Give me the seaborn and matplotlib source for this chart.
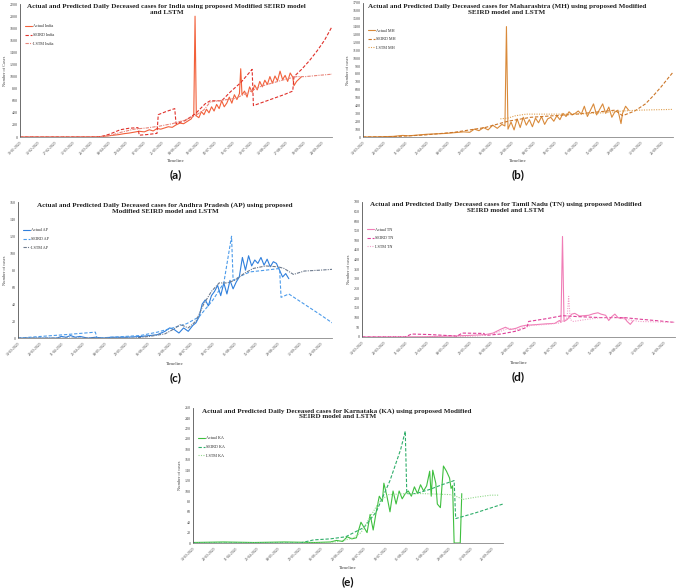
import numpy as np
import pandas as pd
import matplotlib
matplotlib.use("Agg")
import matplotlib.pyplot as plt
import matplotlib.dates as mdates
import seaborn as sns

# ---- India (day offsets from 30-01-2020) ----
india_actual_day = [0, 40, 55, 62, 66, 70, 74, 78, 82, 86, 90, 94, 98, 102, 105, 108, 111, 114, 117, 120,
                    123, 126, 129, 132, 135, 137, 138, 139, 141, 143, 145, 147, 149, 151, 153, 155, 157, 159, 161, 163,
                    165, 167, 169, 171, 173, 174, 175, 177, 179, 181, 183, 185, 187, 189, 191, 193, 195, 197, 199, 201,
                    203, 205, 207, 209, 211, 213, 215, 216, 218, 220, 222]
india_actual_val = [0, 0, 2, 5, 12, 20, 30, 40, 55, 65, 80, 95, 85, 120, 100, 140, 130, 150, 170, 160,
                    200, 230, 220, 260, 300, 380, 2000, 350, 320, 420, 370, 460, 400, 500, 430, 540, 470, 600, 500, 560,
                    660, 560, 700, 620, 720, 1130, 700, 760, 660, 830, 740, 860, 780, 920, 830, 940, 870, 1000, 890, 1010,
                    930, 1090, 950, 1020, 920, 1060, 990, 850, 920, 960, 1000]
india_seird_day = [0, 63, 71, 79, 86, 93, 94, 100, 108, 109, 115, 122, 123, 130, 138, 146, 150, 159, 166, 174,
                   183, 184, 192, 200, 208, 215, 216, 222, 228, 234, 240, 246]
india_seird_val = [0, 0, 50, 120, 145, 155, 30, 40, 60, 370, 420, 470, 220, 270, 380, 550, 600, 600, 750, 900,
                   1120, 520, 580, 640, 700, 760, 1000, 1120, 1260, 1420, 1600, 1830]
india_lstm_day = [0, 63, 72, 80, 90, 100, 110, 120, 130, 138, 145, 150, 160, 170, 180, 190, 200, 210, 218, 225, 235, 246]
india_lstm_val = [0, 0, 30, 80, 130, 150, 180, 220, 280, 350, 450, 580, 610, 640, 740, 840, 900, 960, 1000, 1000, 1020, 1040]

# ---- Maharashtra (day offsets from 14-03-2020) ----
mh_actual_day = [0, 10, 20, 26, 30, 36, 42, 48, 54, 60, 66, 70, 73, 76, 79, 82, 85, 88, 91, 93,
                 94, 95, 97, 99, 101, 103, 105, 107, 109, 111, 113, 115, 117, 119, 121, 123, 125, 127, 129, 131,
                 133, 135, 137, 139, 141, 143, 145, 147, 149, 151, 153, 155, 157, 159, 161, 163, 165, 167, 169, 170,
                 172, 174]
mh_actual_val = [0, 2, 8, 20, 15, 25, 35, 40, 45, 55, 65, 60, 100, 80, 120, 90, 150, 110, 160, 140,
                 1400, 100, 190, 90, 230, 120, 250, 150, 220, 130, 240, 180, 260, 160, 230, 250, 200, 270, 220, 300,
                 260, 320, 280, 300, 330, 290, 390, 260, 340, 420, 280, 350, 420, 300, 380, 250, 320, 340, 170, 300,
                 390, 340]
mh_seird_day = [0, 20, 40, 60, 80, 95, 110, 125, 140, 155, 165, 170, 178, 185, 190, 195, 200, 203]
mh_seird_val = [0, 5, 25, 60, 120, 200, 250, 270, 290, 320, 340, 270, 330, 420, 520, 630, 750, 820]
mh_lstm_day = [90, 95, 100, 107, 115, 130, 145, 160, 170, 180, 190, 203]
mh_lstm_val = [230, 240, 270, 290, 290, 290, 295, 310, 330, 340, 345, 350]

# ---- Andhra Pradesh ----
ap_actual_day = [0, 25, 28, 31, 34, 37, 40, 45, 50, 55, 60, 70, 80, 85, 90, 95, 98, 101, 104, 107,
                 110, 113, 115, 117, 119, 121, 123, 125, 127, 129, 131, 133, 135, 137, 139, 141, 143, 145, 147, 149,
                 151, 153, 155, 157, 159, 161, 163, 165, 167, 169, 171, 173, 175]
ap_actual_val = [0, 0, 2, 1, 3, 1, 2, 0, 1, 0, 1, 1, 2, 3, 4, 8, 12, 10, 6, 12,
                 8, 15, 18, 25, 40, 45, 38, 50, 55, 62, 50, 65, 52, 68, 58, 66, 72, 95, 80, 97,
                 85, 92, 88, 95, 86, 93, 84, 90, 88, 80, 72, 76, 70]
ap_seird_day = [0, 30, 50, 51, 79, 90, 100, 109, 117, 126, 133, 138, 139, 145, 150, 160, 169, 170, 175, 185, 195, 203]
ap_seird_val = [0, 4, 7, 0, 3, 7, 12, 17, 25, 45, 65, 120, 68, 74, 78, 80, 82, 48, 52, 40, 28, 18]
ap_lstm_day = [0, 75, 85, 95, 100, 105, 110, 115, 120, 125, 130, 135, 140, 146, 152, 160, 168, 172, 178, 185, 195, 203]
ap_lstm_val = [0, 0, 2, 5, 10, 16, 12, 20, 40, 55, 65, 65, 68, 76, 82, 85, 84, 82, 75, 79, 80, 81]

# ---- Tamil Nadu ----
tn_actual_day = [0, 40, 60, 70, 80, 85, 90, 93, 96, 100, 103, 106, 110, 115, 120, 125, 128, 129, 130, 131,
                 133, 136, 138, 141, 144, 147, 150, 153, 155, 158, 160, 162, 164, 166, 168, 170, 172, 174, 176]
tn_actual_val = [0, 1, 5, 8, 12, 20, 40, 50, 38, 45, 55, 60, 62, 65, 68, 70, 85, 75, 520, 80,
                 90, 118, 122, 108, 110, 112, 120, 125, 118, 112, 85, 105, 118, 100, 95, 100, 80, 65, 85]
tn_seird_day = [0, 28, 32, 45, 60, 61, 65, 79, 80, 90, 100, 107, 108, 120, 130, 140, 155, 170, 180, 190, 203]
tn_seird_val = [0, 0, 15, 12, 5, 2, 20, 18, 8, 15, 30, 50, 80, 95, 110, 105, 100, 100, 92, 85, 75]
tn_lstm_day = [0, 60, 75, 85, 90, 95, 100, 105, 110, 120, 128, 132, 133, 134, 135, 137, 145, 155, 165, 172, 180, 190, 203]
tn_lstm_val = [0, 0, 5, 15, 30, 45, 35, 50, 60, 65, 72, 90, 100, 210, 90, 80, 90, 100, 102, 90, 80, 78, 76]

# ---- Karnataka ----
ka_actual_day = [0, 20, 40, 60, 80, 90, 94, 98, 101, 104, 107, 110, 112, 114, 116, 118, 120, 122, 124, 125,
                 127, 129, 131, 133, 135, 137, 139, 141, 143, 145, 147, 149, 151, 153, 155, 156, 157, 159, 160, 162,
                 164, 166, 168, 169, 170, 171, 175, 176]
ka_actual_val = [1, 2, 1, 2, 1, 2, 5, 3, 12, 8, 10, 40, 30, 20, 55, 25, 60, 90, 80, 115,
                 90, 60, 100, 75, 100, 85, 95, 100, 90, 108, 95, 112, 100, 110, 138, 90, 140, 115, 75, 68,
                 148, 138, 125, 105, 110, 0, 0, 95]
ka_seird_day = [0, 70, 79, 90, 100, 112, 120, 129, 136, 139, 140, 146, 155, 163, 171, 172, 185, 203]
ka_seird_val = [0, 0, 6, 8, 12, 30, 60, 120, 180, 215, 95, 95, 103, 112, 120, 47, 58, 75]
ka_lstm_day = [0, 88, 95, 100, 105, 110, 114, 118, 122, 128, 140, 150, 160, 169, 172, 177, 185, 195, 200]
ka_lstm_val = [0, 0, 3, 6, 10, 20, 40, 60, 80, 93, 95, 95, 94, 93, 90, 84, 88, 92, 92]


def build_frame(start, region, parts):
    frames = []
    for kind, days, vals in parts:
        dates = pd.Timestamp(start) + pd.to_timedelta(days, unit="D")
        frames.append(pd.DataFrame({"date": dates, "value": vals, "series": kind + " " + region}))
    return pd.concat(frames, ignore_index=True)


SERIF = "Liberation Serif"


def draw_panel(fig, rect, df, region, colors, lstm_dash, title, ylabel, ymax, ystep,
               start, tick_end, end, title_x, legend_y, letter, letter_y):
    ax = fig.add_axes(rect)
    names = ["Actual " + region, "SEIRD " + region, "LSTM " + region]
    palette = dict(zip(names, colors))
    dashes = {names[0]: "", names[1]: (3, 1.6), names[2]: lstm_dash}
    sns.lineplot(data=df, x="date", y="value", hue="series", style="series",
                 hue_order=names, style_order=names, palette=palette, dashes=dashes,
                 estimator=None, sort=True, linewidth=0.8, ax=ax)

    ax.set_xlim(pd.Timestamp(start), pd.Timestamp(end))
    ax.set_ylim(0, ymax)
    ax.set_yticks(np.arange(0, ymax + 1, ystep))
    ax.set_xticks(pd.date_range(start, tick_end, freq="14D"))
    ax.xaxis.set_major_formatter(mdates.DateFormatter("%d-%m-%Y"))
    plt.setp(ax.get_xticklabels(), rotation=45, ha="right", rotation_mode="anchor",
             fontsize=2.7, family=SERIF, color="#444444")
    plt.setp(ax.get_yticklabels(), fontsize=2.9, family=SERIF, color="#444444")
    ax.tick_params(axis="x", length=1.5, width=0.4, pad=1, color="#555555")
    ax.tick_params(axis="y", length=0, pad=1.5)
    ax.set_xlabel("")
    ax.set_ylabel(ylabel, fontsize=3.2, family=SERIF, color="#444444", labelpad=2)
    for side in ["top", "right"]:
        ax.spines[side].set_visible(False)
    ax.spines["left"].set_color("#555555")
    ax.spines["bottom"].set_color("#888888")
    ax.spines["left"].set_linewidth(0.6)
    ax.spines["bottom"].set_linewidth(0.6)

    ax.text(title_x, 1.0, title, transform=ax.transAxes, ha="center", va="top",
            fontsize=5.1, fontweight="bold", family=SERIF, color="#222222", linespacing=1.2)

    handles, labels = ax.get_legend_handles_labels()
    ax.legend(handles, labels, loc="upper left", bbox_to_anchor=(0.01, legend_y), frameon=False,
              handlelength=1.8, handletextpad=0.2, labelspacing=1.1, borderaxespad=0,
              prop={"family": SERIF, "size": 3.0})

    cx = rect[0] + rect[2] * 0.5
    fig.text(cx, letter_y + 0.024, "Timeline", ha="center", va="center",
             fontsize=3.6, family=SERIF, color="#444444")
    fig.text(cx, letter_y, letter, ha="center", va="center",
             fontsize=8.5, fontweight="bold", family="Lato", color="#111111")
    return ax


sns.set_style("white")
fig = plt.figure(figsize=(6.77, 5.88), dpi=100)

india_df = build_frame("2020-01-30", "India", [("Actual", india_actual_day, india_actual_val),
                                               ("SEIRD", india_seird_day, india_seird_val),
                                               ("LSTM", india_lstm_day, india_lstm_val)])
mh_df = build_frame("2020-03-14", "MH", [("Actual", mh_actual_day, mh_actual_val),
                                         ("SEIRD", mh_seird_day, mh_seird_val),
                                         ("LSTM", mh_lstm_day, mh_lstm_val)])
ap_df = build_frame("2020-03-14", "AP", [("Actual", ap_actual_day, ap_actual_val),
                                         ("SEIRD", ap_seird_day, ap_seird_val),
                                         ("LSTM", ap_lstm_day, ap_lstm_val)])
tn_df = build_frame("2020-03-14", "TN", [("Actual", tn_actual_day, tn_actual_val),
                                         ("SEIRD", tn_seird_day, tn_seird_val),
                                         ("LSTM", tn_lstm_day, tn_lstm_val)])
ka_df = build_frame("2020-03-14", "KA", [("Actual", ka_actual_day, ka_actual_val),
                                         ("SEIRD", ka_seird_day, ka_seird_val),
                                         ("LSTM", ka_lstm_day, ka_lstm_val)])

draw_panel(fig, [0.0295, 0.767, 0.461, 0.226], india_df, "India",
           ["#F2603A", "#E0302A", "#E8857A"], (3, 1, 1, 1),
           "Actual and Predicted Daily Deceased cases for India using proposed Modified SEIRD model\nand LSTM",
           "Number of Cases", 2200, 200, "2020-01-30", "2020-09-24", "2020-10-02", 0.47, 0.86, "(a)",
           1 - 175 / 588)
draw_panel(fig, [0.536, 0.767, 0.458, 0.228], mh_df, "MH",
           ["#D98A3A", "#CC7628", "#E0A050"], (1, 1.2),
           "Actual and Predicted Daily Deceased cases for Maharashtra (MH) using proposed Modified\nSEIRD model and LSTM",
           "Number of cases", 1700, 100, "2020-03-14", "2020-09-26", "2020-10-03", 0.465, 0.82, "(b)",
           1 - 175 / 588)
draw_panel(fig, [0.0266, 0.425, 0.464, 0.231], ap_df, "AP",
           ["#2F7FDC", "#4C9BEA", "#6E7B8E"], (3, 1, 1, 1),
           "Actual and Predicted Daily Deceased cases for Andhra Pradesh (AP) using proposed\nModified SEIRD model and LSTM",
           "Number of cases", 160, 20, "2020-03-14", "2020-09-26", "2020-10-03", 0.468, 0.82, "(c)",
           1 - 378 / 588)
draw_panel(fig, [0.535, 0.427, 0.462, 0.230], tn_df, "TN",
           ["#F07DB6", "#DE3E98", "#F2A2CA"], (1, 1.2),
           "Actual and Predicted Daily Deceased cases for Tamil Nadu (TN) using proposed Modified\nSEIRD model and LSTM",
           "Number of cases", 700, 50, "2020-03-14", "2020-09-26", "2020-10-03", 0.46, 0.82, "(d)",
           1 - 377 / 588)
draw_panel(fig, [0.285, 0.0765, 0.458, 0.230], ka_df, "KA",
           ["#3FBF3F", "#2FAE6A", "#94DA8E"], (1, 1.2),
           "Actual and Predicted Daily Deceased cases for Karnataka (KA) using proposed Modified\nSEIRD model and LSTM",
           "Number of cases", 260, 20, "2020-03-14", "2020-09-26", "2020-10-03", 0.465, 0.8, "(e)",
           1 - 582 / 588)

fig.savefig("out.png", dpi=100, facecolor="white")
